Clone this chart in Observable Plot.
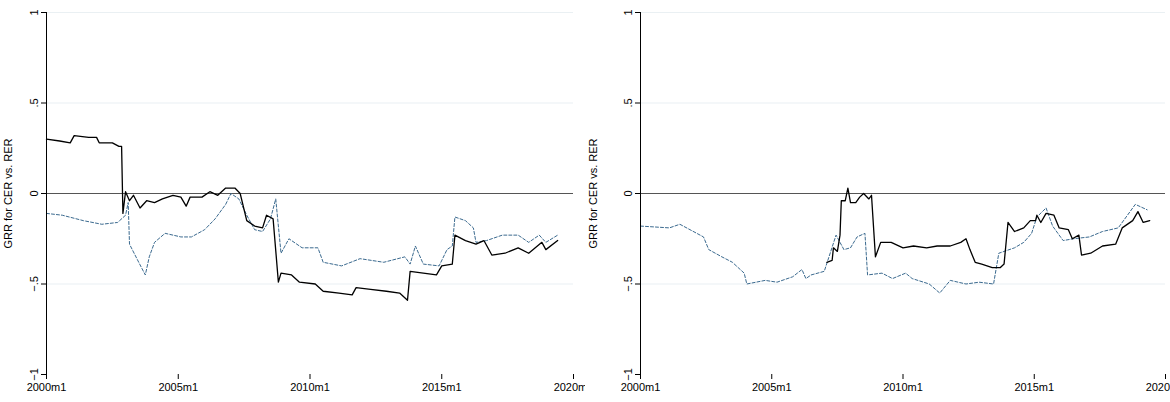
<!DOCTYPE html>
<html>
<head>
<meta charset="UTF-8">
<style>
  body { margin: 0; background: #fff; font-family: 'Liberation Sans', Arial, sans-serif; }
  #wrap { display: flex; width: 1170px; }
  #wrap svg { overflow: hidden; }
</style>
</head>
<body>
<div id="wrap"><div id="left"></div><div id="right"></div></div>
<script src="https://cdn.jsdelivr.net/npm/d3@7"></script>
<script src="https://cdn.jsdelivr.net/npm/@observablehq/plot@0.6"></script>
<script>
// [decimal year, GRR]
const leftSolid = [[2000.0,0.30],[2000.5,0.29],[2000.9,0.28],[2001.05,0.32],[2001.6,0.31],[2001.9,0.31],[2002.0,0.28],[2002.5,0.28],[2002.75,0.26],[2002.85,0.26],
  [2002.9,-0.11],[2003.0,0.01],[2003.15,-0.04],[2003.3,-0.01],[2003.55,-0.08],[2003.8,-0.04],[2004.1,-0.05],[2004.4,-0.03],[2004.8,-0.01],[2005.1,-0.02],
  [2005.3,-0.07],[2005.45,-0.02],[2005.9,-0.02],[2006.2,0.01],[2006.5,-0.01],[2006.8,0.03],[2007.15,0.03],[2007.35,0.0],[2007.6,-0.15],[2007.9,-0.18],
  [2008.2,-0.19],[2008.35,-0.12],[2008.6,-0.14],[2008.8,-0.49],[2008.9,-0.44],[2009.3,-0.45],[2009.6,-0.49],[2010.2,-0.50],[2010.5,-0.54],[2011.1,-0.55],
  [2011.6,-0.56],[2011.75,-0.52],[2012.3,-0.53],[2012.9,-0.54],[2013.4,-0.55],[2013.7,-0.59],[2013.8,-0.43],[2014.3,-0.44],[2014.8,-0.45],[2015.0,-0.40],
  [2015.4,-0.39],[2015.5,-0.23],[2015.9,-0.26],[2016.3,-0.28],[2016.6,-0.26],[2016.9,-0.34],[2017.4,-0.33],[2017.9,-0.30],[2018.3,-0.33],[2018.8,-0.27],
  [2018.95,-0.31],[2019.4,-0.26]];
const leftDashed = [[2000.0,-0.11],[2000.6,-0.12],[2001.4,-0.15],[2002.1,-0.17],[2002.7,-0.16],[2003.0,-0.12],[2003.1,-0.05],[2003.15,-0.28],[2003.5,-0.38],
  [2003.75,-0.45],[2003.9,-0.35],[2004.1,-0.27],[2004.5,-0.22],[2005.1,-0.24],[2005.5,-0.24],[2006.0,-0.20],[2006.4,-0.14],[2006.8,-0.06],[2007.0,0.0],
  [2007.3,-0.03],[2007.6,-0.12],[2007.9,-0.20],[2008.2,-0.21],[2008.5,-0.14],[2008.7,-0.03],[2008.9,-0.33],[2009.2,-0.25],[2009.7,-0.30],[2010.3,-0.30],
  [2010.5,-0.38],[2011.2,-0.40],[2011.9,-0.36],[2012.8,-0.38],[2013.6,-0.35],[2013.8,-0.39],[2014.0,-0.29],[2014.3,-0.39],[2014.9,-0.40],[2015.2,-0.31],
  [2015.4,-0.29],[2015.5,-0.13],[2015.9,-0.15],[2016.2,-0.19],[2016.3,-0.27],[2016.7,-0.26],[2017.3,-0.23],[2017.9,-0.23],[2018.3,-0.27],[2018.7,-0.23],
  [2018.95,-0.27],[2019.4,-0.23]];
const rightSolid = [[2007.1,-0.38],[2007.3,-0.37],[2007.35,-0.30],[2007.5,-0.32],[2007.6,-0.23],[2007.65,-0.04],[2007.8,-0.04],[2007.9,0.03],[2008.0,-0.05],
  [2008.2,-0.05],[2008.35,-0.02],[2008.5,0.0],[2008.7,-0.03],[2008.8,-0.01],[2008.95,-0.35],[2009.15,-0.27],[2009.55,-0.27],[2010.0,-0.30],[2010.4,-0.29],
  [2010.9,-0.30],[2011.3,-0.29],[2011.8,-0.29],[2012.2,-0.27],[2012.4,-0.25],[2012.55,-0.31],[2012.75,-0.38],[2013.0,-0.39],[2013.4,-0.41],[2013.7,-0.41],
  [2013.85,-0.39],[2014.0,-0.16],[2014.25,-0.21],[2014.6,-0.19],[2014.85,-0.15],[2015.05,-0.15],[2015.1,-0.12],[2015.25,-0.16],[2015.45,-0.11],[2015.75,-0.12],
  [2015.95,-0.19],[2016.3,-0.20],[2016.45,-0.25],[2016.7,-0.23],[2016.8,-0.34],[2017.15,-0.33],[2017.6,-0.29],[2018.1,-0.28],[2018.35,-0.19],[2018.75,-0.15],
  [2018.95,-0.10],[2019.15,-0.16],[2019.4,-0.15]];
const rightDashed = [[2000.0,-0.18],[2001.1,-0.19],[2001.5,-0.17],[2002.4,-0.24],[2002.6,-0.31],[2003.1,-0.35],[2003.5,-0.38],[2003.95,-0.44],[2004.05,-0.50],
  [2004.75,-0.48],[2005.2,-0.49],[2005.8,-0.46],[2006.15,-0.42],[2006.3,-0.47],[2006.5,-0.45],[2007.0,-0.43],[2007.45,-0.23],[2007.75,-0.31],[2008.0,-0.30],
  [2008.25,-0.24],[2008.55,-0.22],[2008.65,-0.45],[2009.2,-0.44],[2009.6,-0.47],[2010.1,-0.44],[2010.35,-0.47],[2011.0,-0.50],[2011.4,-0.55],[2011.8,-0.48],
  [2012.4,-0.50],[2012.9,-0.49],[2013.45,-0.50],[2013.65,-0.33],[2014.25,-0.30],[2014.6,-0.27],[2014.9,-0.22],[2015.1,-0.13],[2015.45,-0.08],[2015.7,-0.18],
  [2016.1,-0.26],[2016.5,-0.25],[2017.1,-0.24],[2017.6,-0.21],[2018.2,-0.19],[2018.45,-0.14],[2018.85,-0.06],[2019.3,-0.09]];
const xTicks = [2000, 2005, 2010, 2015, 2020];
const yTicks = [-1, -0.5, 0, 0.5, 1];
const yLabel = "GRR for CER vs. RER";

function fmtY(v) {
  if (v === 0) return "0";
  const s = String(Math.abs(v)).replace(/^0/, "");
  return (v < 0 ? "\u2212" : "") + s;
}

function panel(solid, dashed, marginLeft, marginRight) {
  return Plot.plot({
    width: 585, height: 402,
    marginLeft, marginRight, marginTop: 12, marginBottom: 28,
    style: {fontFamily: "'Liberation Sans', Arial, sans-serif", fontSize: "11px", color: "#000"},
    x: {domain: [2000, 2020]},
    y: {domain: [-1, 1]},
    marks: [
      Plot.ruleY([-0.5, 0.5, 1], {stroke: "#eaf0f3", strokeWidth: 1.2}),
      Plot.ruleY([0], {stroke: "#555", strokeWidth: 1.2}),
      Plot.line(dashed, {x: d => d[0], y: d => d[1], stroke: "#3b6a8f", strokeWidth: 1, strokeDasharray: "3,2"}),
      Plot.line(solid, {x: d => d[0], y: d => d[1], stroke: "#000", strokeWidth: 1.3}),
      Plot.axisX({ticks: xTicks, tickFormat: d => d + "m1", tickSize: 5, label: null, fontSize: 11}),
      Plot.axisY({ticks: yTicks, tickFormat: fmtY, tickSize: 5, tickRotate: -90, tickPadding: 4,
        label: yLabel, labelAnchor: "center", labelArrow: "none", labelOffset: marginLeft - 4, fontSize: 11}),
      Plot.ruleX([2000], {stroke: "#000"}),
      Plot.ruleY([-1], {stroke: "#000", x1: 2000, x2: 2000.0})
    ]
  });
}

document.querySelector("#left").append(panel(leftSolid, leftDashed, 46, 12));
document.querySelector("#right").append(panel(rightSolid, rightDashed, 55, 5));
</script>
</body>
</html>
